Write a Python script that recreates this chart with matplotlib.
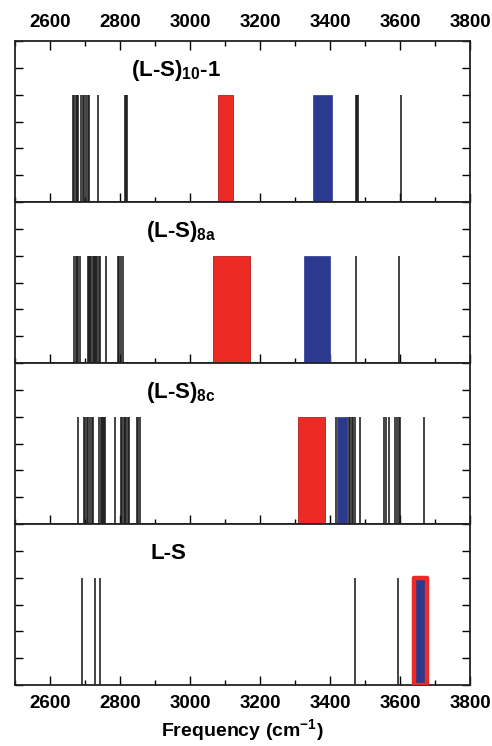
import matplotlib
matplotlib.use("Agg")
import matplotlib.pyplot as plt

plt.rcParams['font.family'] = ['Liberation Sans', 'DejaVu Sans']
plt.rcParams['font.weight'] = 'bold'
plt.rcParams['mathtext.fontset'] = 'custom'
plt.rcParams['mathtext.bf'] = 'Liberation Sans:bold'
plt.rcParams['mathtext.rm'] = 'Liberation Sans:bold'

# datos (cm-1)
etiquetas = [r'(L-S)$_\mathbf{10}$-1', r'(L-S)$_\mathbf{8a}$', r'(L-S)$_\mathbf{8c}$', 'L-S']
lineas_10 = [2667, 2670, 2673, 2676, 2679, 2688, 2693, 2698, 2703, 2708, 2712,
             2738, 2813, 2817, 2821, 3473, 3477, 3481, 3602]
lineas_8a = [2669, 2673, 2676, 2681, 2685, 2709, 2712, 2715, 2718, 2722, 2725,
             2729, 2731, 2735, 2739, 2742, 2760, 2794, 2798, 2803, 2810, 3474, 3596]
lineas_8c = [2679, 2697, 2701, 2705, 2709, 2714, 2719, 2722, 2741, 2745, 2748,
             2751, 2754, 2758, 2786, 2803, 2807, 2811, 2814, 2818, 2822, 2826,
             2848, 2851, 2857, 3416, 3449, 3453, 3457, 3462, 3466, 3471, 3486,
             3554, 3559, 3569, 3587, 3591, 3596, 3599, 3668]
lineas_ls = [2691, 2730, 2743, 3470, 3593]
lineas = [lineas_10, lineas_8a, lineas_8c, lineas_ls]

# bandas (inicio, fin)
banda_roja = [(3080, 3124), (3067, 3170), (3309, 3385), None]
banda_azul = [(3352, 3405), (3325, 3400), (3420, 3448), (3639, 3676)]
altura = 4
x_etiqueta = [2832, 2875, 2875, 2886]

fig = plt.figure(figsize=(4.92, 7.46), dpi=100)
izq, ancho = 15 / 492, 455 / 492
alto = 161 / 746
arriba = 705 / 746
rojo = '#ee2a24'
azul = '#2b3a8f'

for i in range(4):
    ax = fig.add_axes([izq, arriba - (i + 1) * alto, ancho, alto])
    ax.set_xlim(2500, 3800)
    ax.set_ylim(0, 6)
    ax.vlines(lineas[i], 0, altura, color='#1a1a1a', lw=1.15)
    if banda_roja[i] is not None:
        a, b = banda_roja[i]
        ax.bar((a + b) / 2, altura, width=b - a, color=rojo, edgecolor='#b02020',
               lw=0.6, zorder=3)
    a, b = banda_azul[i]
    if i == 3:
        ax.bar((a + b) / 2, altura, width=b - a, color=azul, edgecolor=rojo,
               lw=3.2, joinstyle='round', zorder=3)
    else:
        ax.bar((a + b) / 2, altura, width=b - a, color=azul, edgecolor='#3a4aa0',
               lw=0.6, zorder=3)
    ax.text(x_etiqueta[i], 4.9, etiquetas[i], fontsize=16, fontweight='bold',
            ha='left', va='center')

    ax.set_xticks(range(2600, 3801, 200))
    ax.set_xticks(range(2500, 3801, 100), minor=True)
    ax.set_yticks(range(0, 7))
    ax.set_yticklabels([])
    ax.tick_params(axis='x', which='major', direction='in', length=6.5, width=1.0)
    ax.tick_params(axis='x', which='minor', direction='in', length=3.5, width=1.0)
    ax.tick_params(axis='y', which='major', direction='in', length=5.5, width=1.0,
                   left=True, right=True)
    ax.tick_params(axis='x', labelsize=13.5, pad=7)
    for s in ax.spines.values():
        s.set_linewidth(1.3)
        s.set_color('#222222')
    if i == 0:
        ax.tick_params(axis='x', which='both', top=True, bottom=True,
                       labeltop=True, labelbottom=False)
    elif i == 3:
        ax.tick_params(axis='x', which='both', top=False, labelbottom=True)
        ax.set_xlabel(r'Frequency (cm$^{\mathbf{-1}}$)', fontsize=14,
                      fontweight='bold', labelpad=4)
    else:
        ax.tick_params(axis='x', which='both', top=False, labelbottom=False)
    for lab in ax.get_xticklabels():
        lab.set_fontweight('bold')

fig.savefig('out.png', dpi=100)
plt.close()
